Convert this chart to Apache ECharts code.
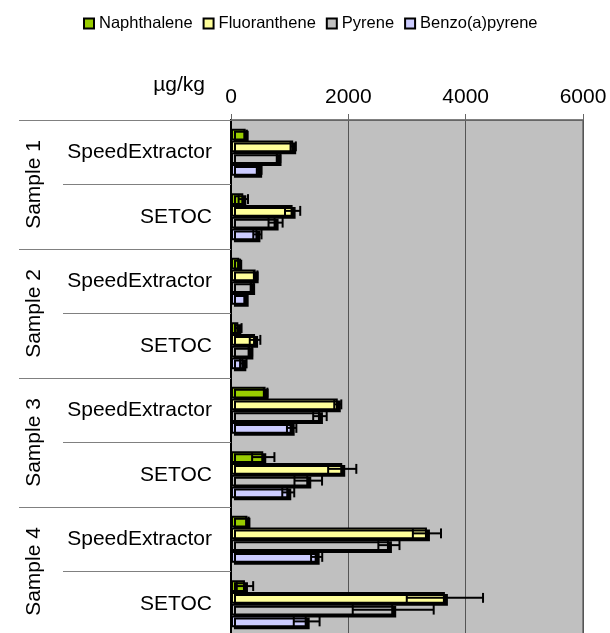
<!DOCTYPE html>
<html>
<head>
<meta charset="utf-8">
<script src="https://cdn.jsdelivr.net/npm/echarts@6/dist/echarts.min.js"></script>
<style>html,body{margin:0;padding:0;background:#fff}#c{width:610px;height:633px}</style>
</head>
<body>
<div id="c"></div>
<script>
const categories = ['SpeedExtractor','SETOC','SpeedExtractor','SETOC','SpeedExtractor','SETOC','SpeedExtractor','SETOC'];
const samples = ['Sample 1','Sample 2','Sample 3','Sample 4'];
const xTicks = [0, 2000, 4000, 6000];
const seriesNames = ['Naphthalene','Fluoranthene','Pyrene','Benzo(a)pyrene'];

const naphthalene = [250, 210, 140, 125, 590, 550, 280, 238];
const naphthaleneErr = [20, 80, 15, 55, 30, 190, 20, 140];
const fluoranthene = [1060, 1050, 420, 410, 1820, 1896, 3340, 3646];
const fluorantheneErr = [45, 130, 30, 90, 60, 240, 240, 650];
const pyrene = [810, 760, 360, 330, 1516, 1317, 2692, 2765];
const pyreneErr = [30, 120, 25, 30, 115, 235, 180, 690];
const benzo = [480, 450, 250, 210, 1034, 976, 1460, 1290];
const benzoErr = [40, 70, 20, 55, 80, 102, 95, 220];

const values = [naphthalene, fluoranthene, pyrene, benzo];
const errors = [naphthaleneErr, fluorantheneErr, pyreneErr, benzoErr];
const colors = ['#99CC00', '#FFFF99', '#C0C0C0', '#CCCCFF'];
const FONT = 'Liberation Sans, Arial, sans-serif';
const CAT_GAP = 0.27;

const chart = echarts.init(document.getElementById('c'), null, {renderer: 'canvas'});

const series = [];
values.forEach((vals, i) => {
  series.push({
    name: seriesNames[i],
    type: 'bar',
    xAxisIndex: 0,
    yAxisIndex: 0,
    data: vals,
    barGap: '0%',
    barCategoryGap: (CAT_GAP * 100) + '%',
    itemStyle: {
      color: colors[i],
      borderColor: '#000',
      borderWidth: 2,
      shadowColor: '#000',
      shadowOffsetX: 3,
      shadowOffsetY: 2,
      shadowBlur: 0
    },
    emphasis: {disabled: true},
    z: 2
  });
});
values.forEach((vals, i) => {
  series.push({
    type: 'custom',
    xAxisIndex: 0,
    yAxisIndex: 0,
    z: 5,
    silent: true,
    data: vals.map((v, k) => [v, k, errors[i][k]]),
    encode: {x: 0, y: 1},
    renderItem: function (params, api) {
      const v = api.value(0), c = api.value(1), e = api.value(2);
      const band = Math.abs(api.size([0, 1])[1]);
      const bw = band * (1 - CAT_GAP) / 4;
      const center = api.coord([v, c]);
      const y = center[1] - 2 * bw + (i + 0.5) * bw;
      const xl = api.coord([v - e, c])[0];
      const xh = api.coord([v + e, c])[0];
      const half = bw * 0.42;
      const st = {stroke: '#000', lineWidth: 2};
      return {
        type: 'group',
        children: [
          {type: 'line', shape: {x1: xl, y1: y, x2: xh, y2: y}, style: st},
          {type: 'line', shape: {x1: xl, y1: y - half, x2: xl, y2: y + half}, style: st},
          {type: 'line', shape: {x1: xh, y1: y - half, x2: xh, y2: y + half}, style: st}
        ]
      };
    }
  });
});

chart.setOption({
  animation: false,
  backgroundColor: '#fff',
  textStyle: {fontFamily: FONT},
  legend: {
    data: seriesNames,
    top: 10,
    left: 78,
    icon: 'rect',
    itemWidth: 10,
    itemHeight: 10,
    itemGap: 10,
    textStyle: {fontFamily: FONT, fontSize: 16.5, color: '#000'}
  },
  grid: {
    left: 231, top: 120, width: 352, height: 516,
    outerBoundsMode: 'none',
    containLabel: false,
    show: true, backgroundColor: '#C0C0C0', borderColor: '#808080', borderWidth: 2
  },
  xAxis: {
    type: 'value',
    position: 'top',
    min: xTicks[0],
    max: xTicks[xTicks.length - 1],
    interval: xTicks[1] - xTicks[0],
    name: 'µg/kg',
    nameLocation: 'start',
    nameGap: 26,
    nameTextStyle: {fontFamily: FONT, fontSize: 21, color: '#000', verticalAlign: 'bottom', padding: [0, 0, 24, 0]},
    axisLine: {show: true, lineStyle: {color: '#666', width: 1}},
    axisTick: {show: true, length: 6, lineStyle: {color: '#666'}},
    axisLabel: {fontFamily: FONT, fontSize: 21, color: '#000', margin: 12, formatter: function (v) { return String(v); }},
    splitLine: {show: true, lineStyle: {color: '#555', width: 1}}
  },
  yAxis: [
    {
      type: 'category',
      inverse: true,
      data: categories,
      position: 'left',
      axisLine: {show: true, lineStyle: {color: '#000', width: 2}},
      axisTick: {show: true, length: 168, lineStyle: {color: '#808080', width: 1}},
      axisLabel: {fontFamily: FONT, fontSize: 21, color: '#000', margin: 19},
      splitLine: {show: false}
    },
    {
      type: 'category',
      inverse: true,
      data: samples,
      position: 'left',
      axisLine: {show: false},
      axisTick: {show: true, length: 212, lineStyle: {color: '#808080', width: 1}},
      axisLabel: {fontFamily: FONT, fontSize: 21, color: '#000', rotate: 90, margin: 186},
      splitLine: {show: false}
    }
  ],
  series: series
});
</script>
</body>
</html>
